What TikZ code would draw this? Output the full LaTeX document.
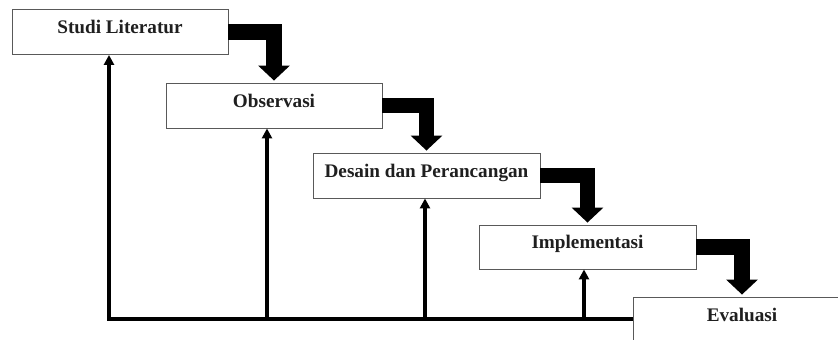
\documentclass[tikz,border=0pt]{standalone}
\usepackage{fontspec}
\setmainfont{Liberation Serif}
\usetikzlibrary{arrows.meta,calc}
\begin{document}
\begin{tikzpicture}[x=1pt,y=-1pt,
  stagebox/.style={draw=black!65,line width=0.9pt,fill=white,inner sep=0pt,
    minimum height=45pt,text height=13pt,text depth=10pt,
    font=\fontsize{19.2}{22}\selectfont\bfseries,text=black!88},
  bigflow/.style={line width=15.5pt,line join=miter,black,
    -{Triangle[length=15pt,width=31pt]},shorten >=2pt},
  feedback/.style={line width=3.2pt,line join=miter,black,
    -{Triangle[length=10pt,width=10pt]}}
]
\useasboundingbox (0,0) rectangle (838,340);
\clip (0,0) rectangle (838,340);
\fill[white] (0,0) rectangle (838,340);

\node[stagebox,minimum width=216pt] (b1) at (120,32) {Studi Literatur};
\node[stagebox,minimum width=216pt] (b2) at (274,105.5) {Observasi};
\node[stagebox,minimum width=227pt] (b3) at (426.5,175.5) {Desain dan Perancangan};
\node[stagebox,minimum width=217pt,minimum height=44pt] (b4) at (587.5,247) {Implementasi};
\node[stagebox,minimum width=218pt] (b5) at (742,319.5) {Evaluasi};

\coordinate (c1) at (109,319);
\coordinate (c2) at (267,319);
\coordinate (c3) at (425,319);
\coordinate (c4) at (584,319);

\draw[feedback] (c1 -| b5.west) -- (c1) -- (c1 |- b1.south);
\draw[feedback] (c2) -- (c2 |- b2.south);
\draw[feedback] (c3) -- (c3 |- b3.south);
\draw[feedback] (c4) -- (c4 |- b4.south);

\draw[bigflow] (b1.east) -| (b2.north);
\draw[bigflow] (b2.east) -| (b3.north);
\draw[bigflow] (b3.east) -| (b4.north);
\draw[bigflow] (b4.east) -| (b5.north);
\end{tikzpicture}
\end{document}
